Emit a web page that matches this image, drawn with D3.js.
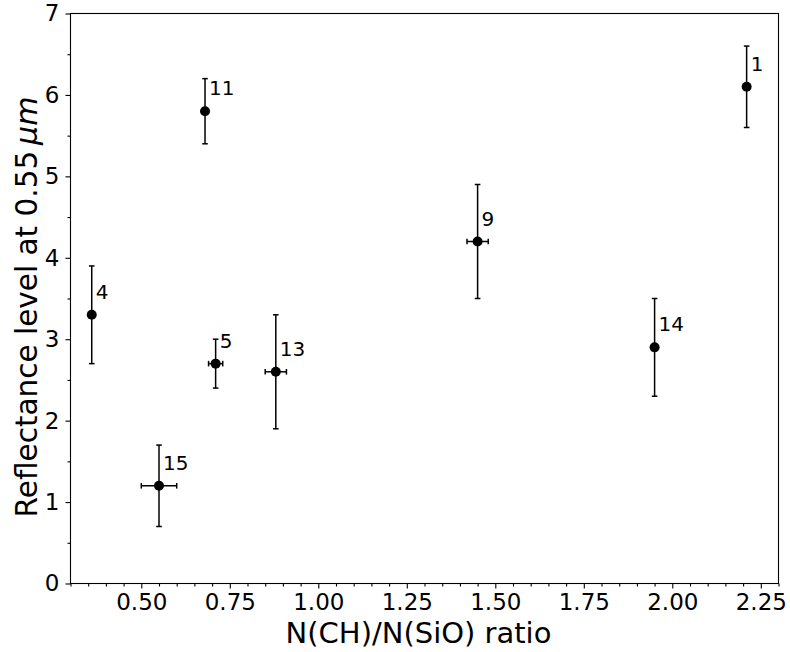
<!DOCTYPE html>
<html>
<head>
<meta charset="utf-8">
<script src="https://cdn.jsdelivr.net/npm/d3@7"></script>
<style>
  html, body { margin: 0; padding: 0; background: #fff; }
  svg { display: block; font-family: "DejaVu Sans", sans-serif; }
</style>
</head>
<body>
<svg id="chart" width="790" height="652"></svg>
<script>
const labels = ["4", "15", "5", "13", "11", "9", "14", "1"];
const xValues = [0.36, 0.55, 0.71, 0.88, 0.68, 1.45, 1.95, 2.21];
const yValues = [3.3, 1.2, 2.7, 2.6, 5.8, 4.2, 2.9, 6.1];
const xErrors = [0, 0.05, 0.02, 0.03, 0, 0.03, 0, 0];
const yErrors = [0.6, 0.5, 0.3, 0.7, 0.4, 0.7, 0.6, 0.5];
const xTicks = [0.50, 0.75, 1.00, 1.25, 1.50, 1.75, 2.00, 2.25];
const yTicks = [0, 1, 2, 3, 4, 5, 6, 7];
const xDomain = [0.3, 2.3];
const yDomain = [0, 7];

(function () {
const svg = d3.select("#chart");
const mLeft = 70.5, mRight = 778.5, mTop = 13.5, mBottom = 583.5;

const x = d3.scaleLinear().domain(xDomain).range([mLeft, mRight]);
const y = d3.scaleLinear().domain(yDomain).range([mBottom, mTop]);

const xMinor = d3.range(0.30, 2.3001, 0.05).map(v => +v.toFixed(2)).filter(v => !xTicks.some(t => Math.abs(t - v) < 1e-6));
const yMinor = d3.range(0.5, 7, 1);

const xAxis = d3.axisBottom(x).tickValues(xTicks).tickFormat(d3.format(".2f")).tickSize(5).tickPadding(5);
const xAxisMinor = d3.axisBottom(x).tickValues(xMinor).tickFormat("").tickSize(3);
const yAxis = d3.axisLeft(y).tickValues(yTicks).tickFormat(d3.format("d")).tickSize(5).tickPadding(6);
const yAxisMinor = d3.axisLeft(y).tickValues(yMinor).tickFormat("").tickSize(3);

function styleAxis(g) {
  g.select(".domain").remove();
  g.selectAll(".tick line").attr("stroke", "#000").attr("stroke-width", 1.1);
  g.selectAll(".tick text").attr("font-size", 23).attr("fill", "#000")
    .attr("font-family", "DejaVu Sans, sans-serif");
}

svg.append("g").attr("transform", `translate(0,${mBottom})`).call(xAxisMinor).call(styleAxis);
svg.append("g").attr("transform", `translate(0,${mBottom})`).call(xAxis).call(styleAxis);
svg.append("g").attr("transform", `translate(${mLeft},0)`).call(yAxisMinor).call(styleAxis);
svg.append("g").attr("transform", `translate(${mLeft},0)`).call(yAxis).call(styleAxis);

svg.append("rect")
  .attr("x", mLeft).attr("y", mTop)
  .attr("width", mRight - mLeft).attr("height", mBottom - mTop)
  .attr("fill", "none").attr("stroke", "#000").attr("stroke-width", 1.1);

const data = labels.map((l, i) => ({label: l, x: xValues[i], y: yValues[i], xe: xErrors[i], ye: yErrors[i]}));
const cap = 2.8;
const g = svg.append("g");

data.forEach(d => {
  const cx = x(d.x), cy = y(d.y);
  if (d.ye > 0) {
    const y1 = y(d.y + d.ye), y2 = y(d.y - d.ye);
    g.append("line").attr("x1", cx).attr("x2", cx).attr("y1", y1).attr("y2", y2)
      .attr("stroke", "#000").attr("stroke-width", 1.5);
    [y1, y2].forEach(yy => g.append("line").attr("x1", cx - cap).attr("x2", cx + cap)
      .attr("y1", yy).attr("y2", yy).attr("stroke", "#000").attr("stroke-width", 1.5));
  }
  if (d.xe > 0) {
    const x1 = x(d.x - d.xe), x2 = x(d.x + d.xe);
    g.append("line").attr("x1", x1).attr("x2", x2).attr("y1", cy).attr("y2", cy)
      .attr("stroke", "#000").attr("stroke-width", 1.5);
    [x1, x2].forEach(xx => g.append("line").attr("x1", xx).attr("x2", xx)
      .attr("y1", cy - cap).attr("y2", cy + cap).attr("stroke", "#000").attr("stroke-width", 1.5));
  }
  g.append("circle").attr("cx", cx).attr("cy", cy).attr("r", 5).attr("fill", "#000");
  g.append("text").attr("x", cx + 4).attr("y", cy - 16)
    .attr("font-size", 20).attr("fill", "#000").text(d.label);
});

svg.append("text")
  .attr("x", (mLeft + mRight) / 2 - 6).attr("y", 643)
  .attr("text-anchor", "middle").attr("font-size", 29).attr("fill", "#000")
  .text("N(CH)/N(SiO) ratio");

const yl = svg.append("text")
  .attr("transform", `translate(37,307) rotate(-90)`)
  .attr("text-anchor", "middle").attr("font-size", 29.5).attr("fill", "#000");
yl.append("tspan").text("Reflectance level at 0.55\u2009");
yl.append("tspan").attr("font-style", "italic").attr("font-size", 30).text("\u03bcm");
})();
</script>
</body>
</html>
